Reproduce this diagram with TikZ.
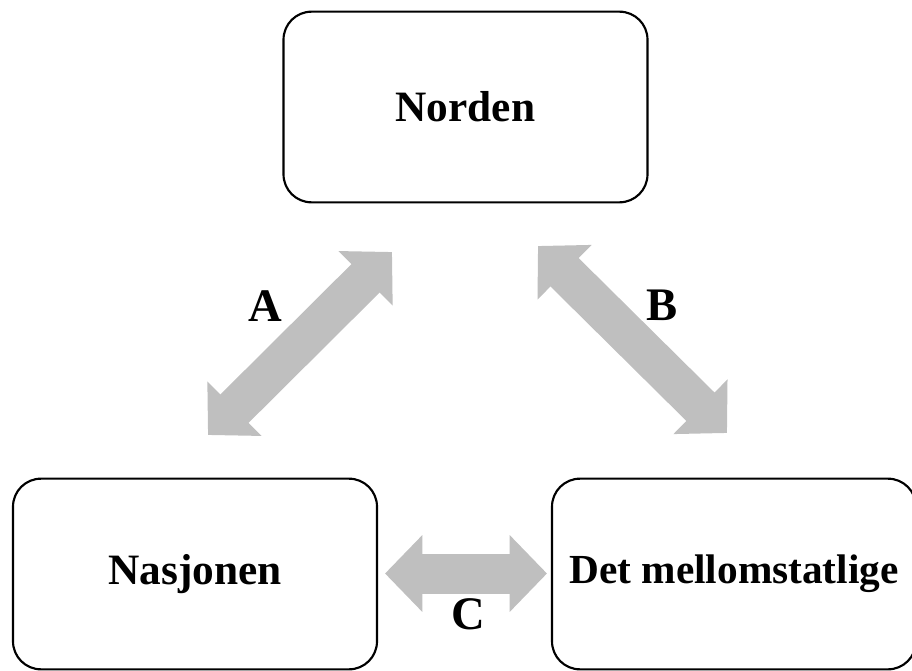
\documentclass[tikz,border=0pt]{standalone}
\usepackage{fontspec}
\setmainfont{Liberation Serif}
\usetikzlibrary{arrows.meta}
\tikzset{
	boks/.style={draw, line width=1.6pt, rounded corners=21pt, minimum width=273pt,
		minimum height=143pt, font=\fontsize{32.5}{36}\selectfont\bfseries},
	pil/.style={draw=gray!50, line width=30pt,
		{Triangle[length=28pt,width=56pt]}-{Triangle[length=28pt,width=56pt]}},
	bokstav/.style={font=\fontsize{35}{40}\selectfont\bfseries}
}

\begin{document}
\begin{tikzpicture}[x=0.75pt, y=-0.75pt]
			\useasboundingbox (0,0) rectangle (912,670);
			\node[boks] (norden) at (465.5,107){Norden};
			\node[boks] (nasjon) at (195,574){Nasjonen};
			\node[boks, font=\fontsize{31}{36}\selectfont\bfseries] (mellom) at (734,574){Det mellomstatlige};
			%%%%%%%%%%%%%%%%%%%%%%%%%%%%%%%%
			\coordinate (a1) at (208,435);
			\coordinate (a2) at (392,252);
			\coordinate (b1) at (538,246);
			\coordinate (b2) at (727,433);
			\coordinate (c1) at (385,573.5);
			\coordinate (c2) at (547,573.5);
			\draw[pil] (a1)--(a2);
			\draw[pil] (b1)--(b2);
			\draw[pil] (c1)--(c2);
			%%%%%%%%%%%%%%%%%%%%%%%%%%%%%
			\node[bokstav] (lA) at (265,306){A};
			\node[bokstav] (lB) at (662,305){B};
			\node[bokstav] (lC) at (468,614){C};
		\end{tikzpicture}
\end{document}
